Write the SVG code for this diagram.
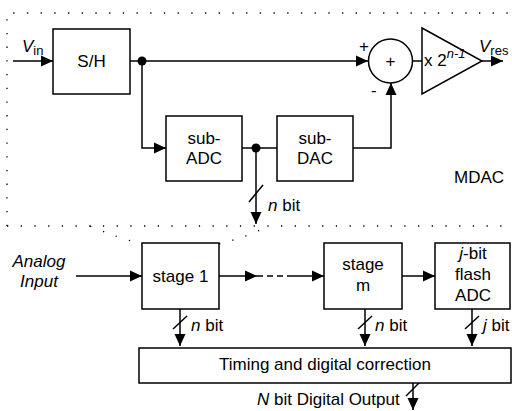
<svg xmlns="http://www.w3.org/2000/svg" width="512" height="411" viewBox="0 0 512 411">
<style>
text{font-family:"Liberation Sans",Arial,sans-serif;font-size:17px;fill:#000}
.c{text-anchor:middle}
.i{font-style:italic}
.s{font-size:13px}
.box{fill:#fff;stroke:#000;stroke-width:1.5}
.ln{fill:none;stroke:#000;stroke-width:1.5}
.dot{fill:none;stroke:#000;stroke-width:1.3;stroke-dasharray:1.3 12.4}
</style>
<defs>
<marker id="ah" markerUnits="userSpaceOnUse" markerWidth="13" markerHeight="12" refX="12" refY="6" orient="auto">
<path d="M0,0.5 L12,6 L0,11.5 z" fill="#000"/>
</marker>
</defs>
<g id="mdac-frame">
<path class="dot" d="M7,226 V13 H520"/>
<path class="dot" d="M7,226 H512"/>
<path class="dot" d="M90,226 Q118,238 142,244"/>
<path class="dot" d="M219,244 Q250,236 268,226"/>
<text x="454" y="183">MDAC</text>
</g>
<g id="connectors">
<path class="ln" d="M13,61 H53" marker-end="url(#ah)"/>
<path class="ln" d="M130,61 H368" marker-end="url(#ah)"/>
<path class="ln" d="M142,61 V148 H166" marker-end="url(#ah)"/>
<path class="ln" d="M242,148 H277"/>
<path class="ln" d="M256,148 V224" marker-end="url(#ah)"/>
<path class="ln" d="M249,202 L263,185"/>
<path class="ln" d="M353,148 H391 V83" marker-end="url(#ah)"/>
<path class="ln" d="M412.5,61 H422"/>
<path class="ln" d="M482,61 H503" marker-end="url(#ah)"/>
<circle cx="142" cy="61" r="4.5" fill="#000"/>
<circle cx="256" cy="148" r="4.5" fill="#000"/>
<path class="ln" d="M76,276 H142" marker-end="url(#ah)"/>
<path class="ln" d="M219,276 H257" marker-end="url(#ah)"/>
<path class="ln" d="M257,276 H293" stroke-dasharray="6 4"/>
<path class="ln" d="M293,276 H324" marker-end="url(#ah)"/>
<path class="ln" d="M402,276 H435" marker-end="url(#ah)"/>
<path class="ln" d="M180,309 V346" marker-end="url(#ah)"/>
<path class="ln" d="M173,329 L187,316"/>
<path class="ln" d="M365,309 V346" marker-end="url(#ah)"/>
<path class="ln" d="M358,329 L372,316"/>
<path class="ln" d="M472,309 V346" marker-end="url(#ah)"/>
<path class="ln" d="M465,329 L479,316"/>
<path class="ln" d="M413,383 V410" marker-end="url(#ah)"/>
<path class="ln" d="M406,396 L420,382"/>
</g>
<g id="vin"><text x="22" y="52"><tspan class="i">V</tspan><tspan class="s" dy="3">in</tspan></text></g>
<g id="sh"><rect class="box" x="53" y="29" width="77" height="65"/><text class="c" x="91.5" y="67">S/H</text></g>
<g id="subadc"><rect class="box" x="166" y="116" width="76" height="65"/><text class="c" x="204" y="144">sub-</text><text class="c" x="204" y="164">ADC</text></g>
<g id="subdac"><rect class="box" x="277" y="116" width="76" height="65"/><text class="c" x="315" y="144">sub-</text><text class="c" x="315" y="164">DAC</text></g>
<g id="nbit-mdac"><text x="268" y="211"><tspan class="i">n</tspan> bit</text></g>
<g id="sum"><circle class="box" cx="390.5" cy="61" r="22"/><text class="c" x="390.5" y="67">+</text><text x="359" y="52">+</text><text x="371" y="96">-</text></g>
<g id="amp"><path class="box" d="M422,28 L482,61 L422,94 z"/><text x="424" y="66">x 2<tspan class="i s" dy="-8">n-1</tspan></text></g>
<g id="vres"><text x="479" y="52"><tspan class="i">V</tspan><tspan class="s" dy="3">res</tspan></text></g>
<g id="analog-input"><text class="c i" x="39" y="267">Analog</text><text class="c i" x="39" y="287">Input</text></g>
<g id="stage1"><rect class="box" x="142" y="243" width="77" height="66"/><text class="c" x="180.5" y="282">stage 1</text></g>
<g id="stagem"><rect class="box" x="324" y="243" width="78" height="66"/><text class="c" x="363" y="270">stage</text><text class="c" x="363" y="291">m</text></g>
<g id="flash"><rect class="box" x="435" y="243" width="75" height="66"/><text class="c" x="473" y="259"><tspan class="i">j</tspan>-bit</text><text class="c" x="473" y="280">flash</text><text class="c" x="473" y="301">ADC</text></g>
<g id="bit-labels"><text x="191" y="331"><tspan class="i">n</tspan> bit</text><text x="375" y="331"><tspan class="i">n</tspan> bit</text><text x="483" y="331"><tspan class="i">j</tspan> bit</text></g>
<g id="timing"><rect class="box" x="139" y="348" width="372" height="35"/><text class="c" x="325" y="370">Timing and digital correction</text></g>
<g id="output"><text x="257" y="405"><tspan class="i">N</tspan> bit Digital Output</text></g>
</svg>
